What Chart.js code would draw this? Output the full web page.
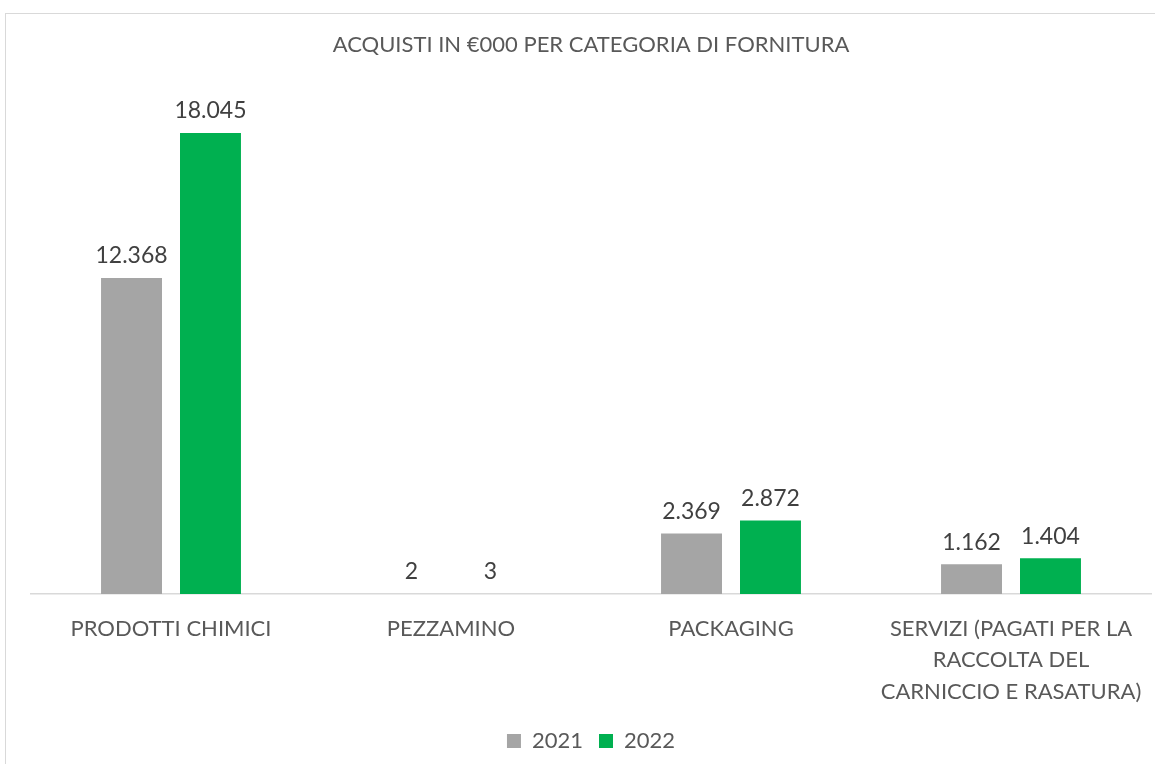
<!DOCTYPE html>
<html>
<head>
<meta charset="utf-8">
<script src="https://cdn.jsdelivr.net/npm/chart.js@4"></script>
<style>
  html, body { margin: 0; padding: 0; background: #fff; overflow: hidden; }
  #box { position: absolute; left: 5px; top: 13px; width: 1172px; height: 760px; border: 1px solid #d9d9d9; }
</style>
</head>
<body>
<div id="box"><canvas id="myBarChart" width="1172" height="760"></canvas></div>
<script>
const categories = [
  'PRODOTTI CHIMICI',
  'PEZZAMINO',
  'PACKAGING',
  ['SERVIZI (PAGATI PER LA', 'RACCOLTA DEL', 'CARNICCIO E RASATURA)']
];
const values2021 = [12368, 2, 2369, 1162];
const values2022 = [18045, 3, 2872, 1404];
const seriesNames = ['2021', '2022'];

const fontFamily = 'Lato, "Open Sans", sans-serif';

function fmt(n) {
  return String(n).replace(/\B(?=(\d{3})+(?!\d))/g, '.');
}

// draws the value above each bar
const valueLabels = {
  id: 'valueLabels',
  afterDatasetsDraw(chart) {
    const c = chart.ctx;
    c.save();
    c.font = '23px ' + fontFamily;
    c.fillStyle = '#404040';
    c.textAlign = 'center';
    c.textBaseline = 'middle';
    chart.data.datasets.forEach((ds, i) => {
      chart.getDatasetMeta(i).data.forEach((bar, j) => {
        c.fillText(fmt(ds.data[j]), bar.x, bar.y - 22);
      });
    });
    c.restore();
  }
};

const ctx = document.getElementById('myBarChart').getContext('2d');
new Chart(ctx, {
  type: 'bar',
  data: {
    labels: categories,
    datasets: [
      { label: seriesNames[0], data: values2021, backgroundColor: '#A5A5A5', categoryPercentage: 0.564, barPercentage: 0.772 },
      { label: seriesNames[1], data: values2022, backgroundColor: '#00B050', categoryPercentage: 0.564, barPercentage: 0.772 }
    ]
  },
  options: {
    responsive: false,
    animation: false,
    layout: { padding: { left: 25, right: 27, top: 0, bottom: 12 } },
    plugins: {
      title: {
        display: true,
        text: 'ACQUISTI IN €000 PER CATEGORIA DI FORNITURA',
        color: '#595959',
        font: { family: fontFamily, size: 22, weight: 'normal' },
        padding: { top: 18, bottom: 24.6 }
      },
      legend: {
        position: 'bottom',
        labels: {
          color: '#595959',
          boxWidth: 14,
          boxHeight: 14,
          padding: 16,
          font: { family: fontFamily, size: 22 }
        }
      },
      tooltip: { enabled: false }
    },
    scales: {
      x: {
        grid: { display: false, drawTicks: false },
        border: { display: true, color: '#d9d9d9', width: 1.5 },
        ticks: {
          color: '#595959',
          padding: 19,
          maxRotation: 0,
          autoSkip: false,
          font: { family: fontFamily, size: 22, lineHeight: 1.43 }
        },
        afterFit(scale) { scale.height = 120; }
      },
      y: {
        display: false,
        min: 0,
        max: 20000
      }
    }
  },
  plugins: [valueLabels]
});
</script>
</body>
</html>
